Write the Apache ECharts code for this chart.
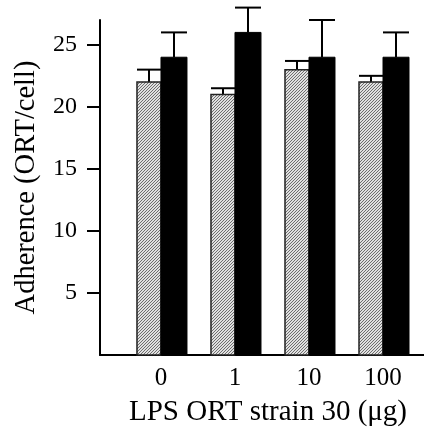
<!DOCTYPE html>
<html>
<head>
<meta charset="utf-8">
<script src="https://cdn.jsdelivr.net/npm/echarts@6/dist/echarts.min.js"></script>
<style>
  html, body { margin: 0; padding: 0; background: #fff; }
  #chart { width: 424px; height: 435px; }
</style>
</head>
<body>
<div id="chart"></div>
<script>
// data
const categories = ['0', '1', '10', '100'];
const hatchedValues = [22, 21, 23, 22];
const hatchedErrors = [1, 0.5, 0.7, 0.5];
const blackValues = [24, 26, 24, 24];
const blackErrors = [2, 2, 3, 2];
const yTicks = [5, 10, 15, 20, 25];

// diagonal hatch fill
function makeHatch() {
  const c = document.createElement('canvas');
  c.width = 3; c.height = 3;
  const ctx = c.getContext('2d');
  ctx.fillStyle = '#e0e0e0';
  ctx.fillRect(0, 0, 3, 3);
  ctx.fillStyle = '#6e6e6e';
  ctx.fillRect(2, 0, 1, 1);
  ctx.fillRect(1, 1, 1, 1);
  ctx.fillRect(0, 2, 1, 1);
  return c;
}
const hatch = { image: makeHatch(), repeat: 'repeat' };

const font = '"Liberation Serif", "Times New Roman", serif';

function barItem(kind) {
  return function (params, api) {
    const i = api.value(0);
    const base = api.coord([i, 0]);
    const top = api.coord([i, api.value(1)]);
    const errTop = api.coord([i, api.value(1) + api.value(2)]);
    const w = kind === 'hatch' ? 24 : 26;
    const x0 = kind === 'hatch' ? base[0] - w : base[0];
    const mid = x0 + w / 2;
    const lineStyle = { stroke: '#000', lineWidth: 2 };
    return {
      type: 'group',
      children: [
        {
          type: 'line',
          shape: { x1: mid, y1: top[1], x2: mid, y2: errTop[1] },
          style: lineStyle
        },
        {
          type: 'line',
          shape: { x1: x0, y1: errTop[1], x2: x0 + w, y2: errTop[1] },
          style: lineStyle
        },
        {
          type: 'rect',
          shape: { x: x0, y: top[1], width: w, height: base[1] - top[1] },
          style: kind === 'hatch'
            ? { fill: hatch, stroke: '#222', lineWidth: 1.5 }
            : { fill: '#000', stroke: '#000', lineWidth: 1 }
        }
      ]
    };
  };
}

const chart = echarts.init(document.getElementById('chart'));
chart.setOption({
  animation: false,
  grid: { left: 100, right: 0, top: 20, bottom: 80 },
  xAxis: {
    type: 'value',
    min: -0.824,
    max: 3.554,
    splitLine: { show: false },
    axisTick: { show: false },
    axisLine: { show: true, onZero: false, lineStyle: { color: '#000', width: 2 } },
    axisLabel: {
      customValues: [0, 1, 2, 3],
      formatter: v => categories[Math.round(v)],
      color: '#000',
      fontFamily: font,
      fontSize: 25,
      margin: 11
    },
    name: 'LPS ORT strain 30 (\u03bcg)',
    nameLocation: 'middle',
    nameGap: 43,
    nameTextStyle: { color: '#000', fontFamily: font, fontSize: 29, padding: [0, 0, 0, 12] }
  },
  yAxis: {
    type: 'value',
    min: 0,
    max: 27,
    splitLine: { show: false },
    axisLine: { show: true, onZero: false, lineStyle: { color: '#000', width: 2 } },
    axisTick: {
      show: true,
      length: 13,
      customValues: yTicks,
      lineStyle: { color: '#000', width: 2 }
    },
    axisLabel: {
      customValues: yTicks,
      color: '#000',
      fontFamily: font,
      fontSize: 24,
      margin: 23
    },
    name: 'Adherence (ORT/cell)',
    nameLocation: 'middle',
    nameGap: 59,
    nameTextStyle: { color: '#000', fontFamily: font, fontSize: 28.5 }
  },
  series: [
    {
      type: 'custom',
      clip: false,
      renderItem: barItem('hatch'),
      data: hatchedValues.map((v, i) => [i, v, hatchedErrors[i]])
    },
    {
      type: 'custom',
      clip: false,
      renderItem: barItem('black'),
      data: blackValues.map((v, i) => [i, v, blackErrors[i]])
    }
  ]
});
</script>
</body>
</html>
